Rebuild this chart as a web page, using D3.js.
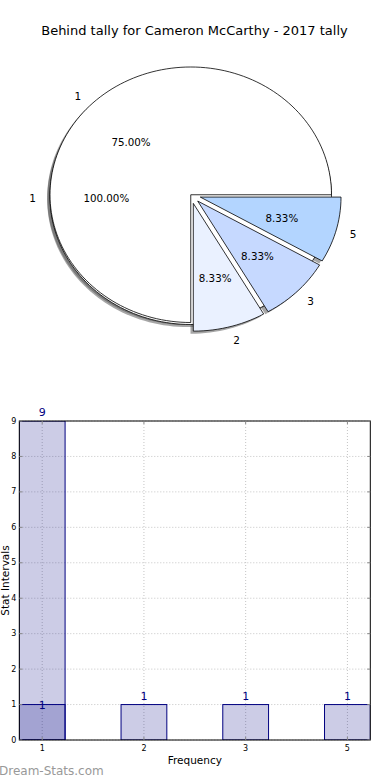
<!DOCTYPE html>
<html>
<head>
<meta charset="utf-8">
<script src="https://cdn.jsdelivr.net/npm/d3@7"></script>
<style>
  body { margin: 0; background: #fff; }
  svg { display: block; font-family: "DejaVu Sans", sans-serif; }
</style>
</head>
<body>
<div id="chart"></div>
<script>
// pie data: the full pie and the split pie drawn on top of it
const fullLabels = ["1"];
const fullValues = [12];
const pieLabels = ["1", "2", "3", "5"];
const pieValues = [9, 1, 1, 1];
const pieColors = ["#ffffff", "#eaf1ff", "#c6d9ff", "#b3d5ff"];
const pieExplode = [0, 0.07, 0.07, 0.07];

// bar data
const barCats = ["1", "2", "3", "5"];
const barValues = [9, 1, 1, 1];
const overlayValues = [1, null, null, null];
const yTicks = [0, 1, 2, 3, 4, 5, 6, 7, 8, 9];

const W = 390, H = 780;
const svg = d3.select("#chart").append("svg")
  .attr("width", W).attr("height", H);

// title
svg.append("text")
  .attr("x", 194.5).attr("y", 35)
  .attr("text-anchor", "middle")
  .style("font-size", "13px")
  .text("Behind tally for Cameron McCarthy - 2017 tally");

// ---- pie ----
// elliptical pie, matplotlib style (counter clockwise from east)
const cx = 190.75, cy = 194.75, rx = 140.75, ry = 127.75;
const shadowDx = -2.8, shadowDy = 2.6;

function wedgePath(x0, y0, a0, a1) {
  // angles in degrees, ccw from east, y axis pointing up
  const n = Math.max(2, Math.ceil((a1 - a0) / 2));
  const pts = d3.range(n + 1).map(i => {
    const a = (a0 + (a1 - a0) * i / n) * Math.PI / 180;
    return [x0 + rx * Math.cos(a), y0 - ry * Math.sin(a)];
  });
  if (a1 - a0 >= 360) return d3.line()(pts) + "Z";
  return "M" + x0 + "," + y0 + "L" + pts.map(p => p.join(",")).join("L") + "Z";
}

function layoutPie(values, explode, yShift) {
  const total = d3.sum(values);
  let acc = 0;
  return values.map((v, i) => {
    const a0 = acc / total * 360;
    acc += v;
    const a1 = acc / total * 360;
    const mid = (a0 + a1) / 2 * Math.PI / 180;
    const e = explode ? explode[i] : 0;
    return {
      a0, a1, mid, v, i,
      x: cx + e * rx * Math.cos(mid),
      y: cy + yShift - e * ry * Math.sin(mid),
      pct: v / total * 100
    };
  });
}

const fullSlices = layoutPie(fullValues, null, 2);
const splitSlices = layoutPie(pieValues, pieExplode, 0);

const pieG = svg.append("g");

// shadows sit under every wedge
function drawShadows(slices) {
  pieG.append("g").selectAll("path").data(slices).join("path")
    .attr("d", d => wedgePath(d.x + shadowDx, d.y + shadowDy, d.a0, d.a1))
    .attr("fill", "#4d4d4d").attr("fill-opacity", 0.5).attr("stroke", "none");
}

function drawWedges(slices, colors) {
  pieG.append("g").selectAll("path").data(slices).join("path")
    .attr("d", d => wedgePath(d.x, d.y, d.a0, d.a1))
    .attr("fill", d => colors[d.i])
    .attr("stroke", "#000").attr("stroke-width", 0.8)
    .attr("stroke-linejoin", "miter");
}

function drawTexts(slices, labels) {
  const g = pieG.append("g");
  g.selectAll(".lab").data(slices).join("text")
    .attr("class", "lab")
    .attr("x", d => d.x + 1.1 * rx * Math.cos(d.mid))
    .attr("y", d => d.y - 1.1 * ry * Math.sin(d.mid) + 1)
    .attr("text-anchor", d => Math.cos(d.mid) > 0.001 ? "start" : "end")
    .attr("dominant-baseline", "central")
    .style("font-size", "10.5px")
    .text(d => labels[d.i]);
  g.selectAll(".pct").data(slices).join("text")
    .attr("class", "pct")
    .attr("x", d => d.x + 0.6 * rx * Math.cos(d.mid))
    .attr("y", d => d.y - 0.6 * ry * Math.sin(d.mid) + 1)
    .attr("text-anchor", "middle")
    .attr("dominant-baseline", "central")
    .style("font-size", "10.3px")
    .text(d => d.pct.toFixed(2) + "%");
}

drawShadows(fullSlices);
drawShadows(splitSlices);
drawWedges(fullSlices, ["#ffffff"]);
drawWedges(splitSlices, pieColors);
drawTexts(fullSlices, fullLabels);
drawTexts(splitSlices, pieLabels);

// ---- bar chart ----
const pLeft = 19.3, pRight = 370.3, pTop = 421, pBottom = 740;
const x = d3.scaleLinear().domain([-0.225, 3.225]).range([pLeft, pRight]);
const y = d3.scaleLinear().domain([0, 9]).range([pBottom, pTop]);
const bw = x(0.225) - x(-0.225);

const bars = svg.append("g");

// grid
bars.append("g").selectAll("line").data(yTicks).join("line")
  .attr("x1", pLeft).attr("x2", pRight)
  .attr("y1", d => y(d)).attr("y2", d => y(d))
  .attr("stroke", "#c4c4c4").attr("stroke-dasharray", "1,2");
bars.append("g").selectAll("line").data(barCats).join("line")
  .attr("x1", (d, i) => x(i)).attr("x2", (d, i) => x(i))
  .attr("y1", pTop).attr("y2", pBottom)
  .attr("stroke", "#c4c4c4").attr("stroke-dasharray", "1,2");

svg.append("clipPath").attr("id", "plotclip")
  .append("rect").attr("x", pLeft).attr("y", pTop)
  .attr("width", pRight - pLeft).attr("height", pBottom - pTop);

const plot = bars.append("g").attr("clip-path", "url(#plotclip)");
plot.selectAll(".bar").data(barValues).join("rect")
  .attr("class", "bar")
  .attr("x", (d, i) => x(i) - bw / 2)
  .attr("y", d => y(d))
  .attr("width", bw)
  .attr("height", d => pBottom - y(d))
  .attr("fill", "#000080").attr("fill-opacity", 0.2)
  .attr("stroke", "#000080").attr("stroke-width", 1);

const overlay = overlayValues.map((v, i) => ({ v, i })).filter(d => d.v != null);
plot.selectAll(".bar2").data(overlay).join("rect")
  .attr("class", "bar2")
  .attr("x", d => x(d.i) - bw / 2)
  .attr("y", d => y(d.v))
  .attr("width", bw)
  .attr("height", d => pBottom - y(d.v))
  .attr("fill", "#000080").attr("fill-opacity", 0.2)
  .attr("stroke", "#000080").attr("stroke-width", 1);

// value labels
bars.selectAll(".vlab").data(barValues).join("text")
  .attr("class", "vlab")
  .attr("x", (d, i) => x(i))
  .attr("y", d => y(d) - 5)
  .attr("text-anchor", "middle")
  .attr("fill", "#000080")
  .style("font-size", "11px")
  .text(d => d);
bars.selectAll(".vlab2").data(overlay).join("text")
  .attr("class", "vlab2")
  .attr("x", d => x(d.i))
  .attr("y", d => y(d.v) + 4)
  .attr("text-anchor", "middle")
  .attr("fill", "#000080")
  .style("font-size", "11px")
  .text(d => d.v);

// frame
bars.append("rect")
  .attr("x", pLeft).attr("y", pTop)
  .attr("width", pRight - pLeft).attr("height", pBottom - pTop)
  .attr("fill", "none").attr("stroke", "#000").attr("stroke-width", 1);

// ticks (inward, all four sides)
bars.append("g").selectAll("path").data(yTicks).join("path")
  .attr("d", d => `M${pLeft},${y(d)}h3M${pRight},${y(d)}h-3`)
  .attr("stroke", "#888");
bars.append("g").selectAll("path").data(barCats).join("path")
  .attr("d", (d, i) => `M${x(i)},${pBottom}v-3M${x(i)},${pTop}v3`)
  .attr("stroke", "#888");

// tick labels
bars.append("g").selectAll("text").data(yTicks).join("text")
  .attr("x", pLeft - 3).attr("y", d => y(d))
  .attr("text-anchor", "end").attr("dominant-baseline", "central")
  .style("font-size", "8px")
  .text(d => d);
bars.append("g").selectAll("text").data(barCats).join("text")
  .attr("x", (d, i) => x(i)).attr("y", pBottom + 11)
  .attr("text-anchor", "middle")
  .style("font-size", "8px")
  .text(d => d);

// axis titles, centred on the axes
svg.append("text")
  .attr("x", (pLeft + pRight) / 2).attr("y", 764)
  .attr("text-anchor", "middle")
  .style("font-size", "10.5px")
  .text("Frequency");
svg.append("text")
  .attr("transform", `translate(9,${(pTop + pBottom) / 2}) rotate(-90)`)
  .attr("text-anchor", "middle")
  .style("font-size", "10.5px")
  .text("Stat Intervals");

// watermark
svg.append("text")
  .attr("x", -1).attr("y", 775)
  .attr("fill", "#999")
  .style("font-size", "12px")
  .text("Dream-Stats.com");
</script>
</body>
</html>
